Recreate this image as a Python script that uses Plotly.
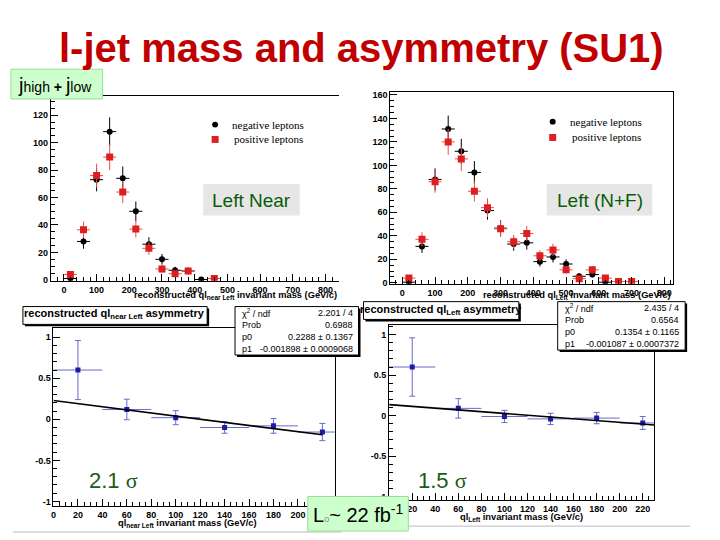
import plotly.graph_objects as go

W, H = 720, 540
def px(x): return x / W
def py(y): return 1 - y / H

# ---------------- data ----------------
bins_near = [20, 60, 100, 140, 180, 220, 260, 300, 340, 380, 420, 460]
neg_near = [1, 28, 73, 108, 74, 50, 26, 15, 7, 6.5, 0.3, None]
neg_near_err = [1, 5.3, 8.5, 10.4, 8.6, 7.1, 5.1, 3.9, 2.6, 2.5, 0.5, None]
pos_near = [4, 36.5, 76, 89.5, 64, 37, 23, 8, 4.5, 6.5, None, 1]
pos_near_err = [2, 6, 8.7, 9.5, 8, 6.1, 4.8, 2.8, 2.1, 2.5, None, 1]

bins_nf = [20, 60, 100, 140, 180, 220, 260, 300, 340, 380, 420, 460, 500, 540, 580, 620, 660, 700]
neg_nf = [0.5, 31, 88, 131, 112, 94, 61.5, 46.5, 33, 34, 18, 22, 16, 5.5, 7, 0.5, None, None]
neg_nf_err = [0.7, 5.6, 9.4, 11.4, 10.6, 9.7, 7.8, 6.8, 5.7, 5.8, 4.2, 4.7, 4, 2.3, 2.6, 0.7, None, None]
pos_nf = [4, 37, 86, 120, 105.5, 78, 64, 46, 35, 42, 23, 28, 11, 3.5, 11, 4, 1, 1]
pos_nf_err = [2, 6.1, 9.3, 11, 10.3, 8.8, 8, 6.8, 5.9, 6.5, 4.8, 5.3, 3.3, 1.9, 3.3, 2, 1, 1]
bin_half = 20

asym_x = [20, 60, 100, 140, 180, 220]
asym_near = [0.60, 0.12, 0.02, -0.10, -0.08, -0.155]
asym_near_err = [0.36, 0.125, 0.085, 0.07, 0.09, 0.105]
asym_nf = [0.60, 0.09, -0.01, -0.04, -0.03, -0.09]
asym_nf_err = [0.36, 0.12, 0.075, 0.07, 0.07, 0.08]

fit_near = dict(chi2="2.201 / 4", prob="0.6988", p0=0.2288, p0e=0.1367, p1=-0.001898, p1e=0.0009068, xmax=220)
fit_nf = dict(chi2="2.435 / 4", prob="0.6564", p0=0.1354, p0e=0.1165, p1=-0.001087, p1e=0.0007372, xmax=230)

hist_x_ticks = [0, 100, 200, 300, 400, 500, 600, 700, 800]
near_y_ticks = [0, 20, 40, 60, 80, 100, 120]
nf_y_ticks = [0, 20, 40, 60, 80, 100, 120, 140, 160]
asym_y_ticks = [-1, -0.5, 0, 0.5, 1]
asym_y_text = ["-1", "-0.5", "0", "0.5", "1"]
asym_x_ticks = [0, 20, 40, 60, 80, 100, 120, 140, 160, 180, 200, 220]
legend_names = ["negative leptons", "positive leptons"]

# ---------------- figure ----------------
fig = go.Figure()
NEG = "black"
POS = "#dd1f1f"
POS_ERR = "#e85050"
BLUE = "#1c1ca8"
BLUE_ERR = "#6a6ac8"

def hist_pair(xs, neg, negerr, pos, poserr, xa, ya):
    fig.add_trace(go.Scatter(
        x=xs, y=neg, mode="markers", name=legend_names[0], showlegend=False,
        marker=dict(symbol="circle", size=6, color=NEG),
        error_y=dict(type="data", array=negerr, color=NEG, thickness=1, width=0),
        error_x=dict(type="constant", value=bin_half, color=NEG, thickness=1, width=0),
        xaxis=xa, yaxis=ya))
    fig.add_trace(go.Scatter(
        x=xs, y=pos, mode="markers", name=legend_names[1], showlegend=False,
        marker=dict(symbol="square", size=7, color=POS),
        error_y=dict(type="data", array=poserr, color=POS_ERR, thickness=1, width=0),
        error_x=dict(type="constant", value=bin_half, color=POS_ERR, thickness=1, width=0),
        xaxis=xa, yaxis=ya))

hist_pair(bins_near, neg_near, neg_near_err, pos_near, pos_near_err, "x", "y")
hist_pair(bins_nf, neg_nf, neg_nf_err, pos_nf, pos_nf_err, "x2", "y2")

def asym(ys, errs, fit, xa, ya):
    fig.add_trace(go.Scatter(
        x=asym_x, y=ys, mode="markers", showlegend=False,
        marker=dict(symbol="square", size=5, color=BLUE),
        error_y=dict(type="data", array=errs, color=BLUE_ERR, thickness=1, width=3),
        error_x=dict(type="constant", value=bin_half, color=BLUE_ERR, thickness=1, width=0),
        xaxis=xa, yaxis=ya))
    fx = [0, fit["xmax"]]
    fy = [fit["p0"] + fit["p1"] * v for v in fx]
    fig.add_trace(go.Scatter(x=fx, y=fy, mode="lines", showlegend=False,
                             line=dict(color="black", width=1.6), xaxis=xa, yaxis=ya))

asym(asym_near, asym_near_err, fit_near, "x3", "y3")
asym(asym_nf, asym_nf_err, fit_nf, "x4", "y4")

tickfont = dict(family="Liberation Sans", size=9, color="black", weight="bold")
common = dict(showgrid=False, zeroline=False, showline=True, linecolor="black", linewidth=1,
              ticks="inside", ticklen=7, tickcolor="black", tickfont=tickfont)

def minor(d):
    return dict(dtick=d, ticklen=4, ticks="inside", tickcolor="black")

fig.update_layout(
    width=W, height=H, margin=dict(l=0, r=0, t=0, b=0),
    paper_bgcolor="white", plot_bgcolor="white", showlegend=False,
    xaxis=dict(domain=[px(48), px(337)], range=[-40, 840], tickvals=hist_x_ticks, mirror=True,
               minor=minor(20), anchor="y", **common),
    yaxis=dict(domain=[py(282), py(95)], range=[-0.7, 134], tickvals=near_y_ticks,
               minor=minor(5), anchor="x", **common),
    xaxis2=dict(domain=[px(389), px(673)], range=[-36.5, 827], tickvals=hist_x_ticks, mirror=True,
                minor=minor(20), anchor="y2", **common),
    yaxis2=dict(domain=[py(285), py(91)], range=[-0.9, 162.5], tickvals=nf_y_ticks, mirror=True,
                minor=minor(5), anchor="x2", **common),
    xaxis3=dict(domain=[px(50.7), px(333)], range=[0, 230], tickvals=asym_x_ticks, mirror=True,
                minor=minor(5), anchor="y3", **common),
    yaxis3=dict(domain=[py(510), py(330)], range=[-1.06, 1.108], tickvals=asym_y_ticks, ticktext=asym_y_text,
                mirror=True, minor=minor(0.1), anchor="x3", **common),
    xaxis4=dict(domain=[px(387.8), px(654)], range=[0, 230], tickvals=asym_x_ticks, mirror=True,
                minor=minor(5), anchor="y4", **common),
    yaxis4=dict(domain=[py(504), py(326.7)], range=[-1.045, 1.117], tickvals=asym_y_ticks, ticktext=asym_y_text,
                mirror=True, minor=minor(0.1), anchor="x4", **common),
)

shapes = []
annos = []

def rect(x0, y0, x1, y1, fill, line="rgba(0,0,0,0)", lw=1):
    shapes.append(dict(type="rect", xref="paper", yref="paper", x0=px(x0), x1=px(x1), y0=py(y1), y1=py(y0),
                       fillcolor=fill, line=dict(color=line, width=lw), layer="above"))

def circle(cx, cy, r, fill):
    shapes.append(dict(type="circle", xref="paper", yref="paper", x0=px(cx - r), x1=px(cx + r),
                       y0=py(cy + r), y1=py(cy - r), fillcolor=fill, line=dict(width=0), layer="above"))

def hline(x0, x1, y, color="#bbbbbb", w=1):
    shapes.append(dict(type="line", xref="paper", yref="paper", x0=px(x0), x1=px(x1), y0=py(y), y1=py(y),
                       line=dict(color=color, width=w), layer="above"))

def text(x, y, t, size, color="black", family="Liberation Sans", xanchor="center", weight="normal"):
    annos.append(dict(x=px(x), y=py(y), xref="paper", yref="paper", text=t, showarrow=False,
                      xanchor=xanchor, yanchor="middle",
                      font=dict(family=family, size=size, color=color, weight=weight)))

# separator lines
hline(10, 340, 536)
hline(350, 690, 530)

# Title
text(360, 47, "l-jet mass and asymmetry (SU1)", 40, color="#c00000", weight="bold")

# jhigh + jlow box
rect(8, 68, 100, 98, "#ccffcc", "#99dd99")
text(13, 84, "<span style='font-size:20px'>j</span>high <b>+</b> <span style='font-size:20px'>j</span>low",
     14, xanchor="left")

# Legends (keys)
def legend_keys(mx, y1, y2, tx):
    circle(mx, y1, 3, NEG)
    rect(mx - 3.5, y2 - 3.5, mx + 3.5, y2 + 3.5, POS)
    text(tx, y1, legend_names[0], 11, family="Liberation Serif", xanchor="left")
    text(tx + 2, y2, legend_names[1], 11, family="Liberation Serif", xanchor="left")

legend_keys(213, 124, 139, 228)
legend_keys(552, 121, 137, 567)

# Left Near / Left (N+F) boxes
rect(201, 184, 298, 216, "#e6e6e6")
text(249.5, 201, "Left Near", 19, color="#0a5c0a")
rect(546, 184, 652, 216, "#e6e6e6")
text(599, 201, "Left (N+F)", 19, color="#0a5c0a")

# Axis titles
text(337, 297, "reconstructed ql<sub>near Left</sub> invariant mass (GeV/c)", 9.3, xanchor="right", weight="bold")
text(673, 297, "reconstructed ql<sub>Left</sub> invariant mass (GeV/c)", 9.3, xanchor="right", weight="bold")
text(185, 527, "ql<sub>near Left</sub> invariant mass (GeV/c)", 9.3, weight="bold")
text(521, 521, "ql<sub>Left</sub> invariant mass (GeV/c)", 9.3, weight="bold")

# Asymmetry title boxes
rect(22, 310, 207, 328, "black")
rect(20, 308, 205, 326, "white", "black")
text(112, 316, "reconstructed ql<sub>near Left</sub> asymmetry", 11, weight="bold")
rect(364, 305, 520, 323, "black")
rect(362, 303, 518, 321, "white", "black")
text(440, 311, "reconstructed ql<sub>Left</sub> asymmetry", 11, weight="bold")

# Stat boxes
def statbox(x0, y0, x1, y1, fit):
    rect(x0 + 2, y0 + 2, x1 + 2, y1 + 2, "black")
    rect(x0, y0, x1, y1, "white", "black")
    rows = [("χ<sup>2</sup> / ndf", fit["chi2"]),
            ("Prob", fit["prob"]),
            ("p0", f"{fit['p0']} ± {fit['p0e']}"),
            ("p1", f"{fit['p1']} ± {fit['p1e']}")]
    h = (y1 - y0) / 4
    for i, (a, b) in enumerate(rows):
        yy = y0 + h * (i + 0.5)
        text(x0 + 5, yy, a, 9, xanchor="left")
        text(x1 - 4, yy, b, 9, xanchor="right")

statbox(233, 308, 357, 357, fit_near)
statbox(557, 303, 685, 352, fit_nf)

# significance labels
text(111, 484, "2.1 <span style='font-family:Liberation Serif'>σ</span>", 22, color="#1a5c1a")
text(441, 484, "1.5 <span style='font-family:Liberation Serif'>σ</span>", 22, color="#1a5c1a")

# Luminosity box
rect(306, 500, 407, 535, "#ccffcc", "#99dd99")
text(357, 517, "L<span style='font-size:9px;color:#888888'>o</span>~ 22 fb<sup>-1</sup>", 20)

fig.update_layout(shapes=shapes, annotations=annos)
fig.write_html("out.html")
